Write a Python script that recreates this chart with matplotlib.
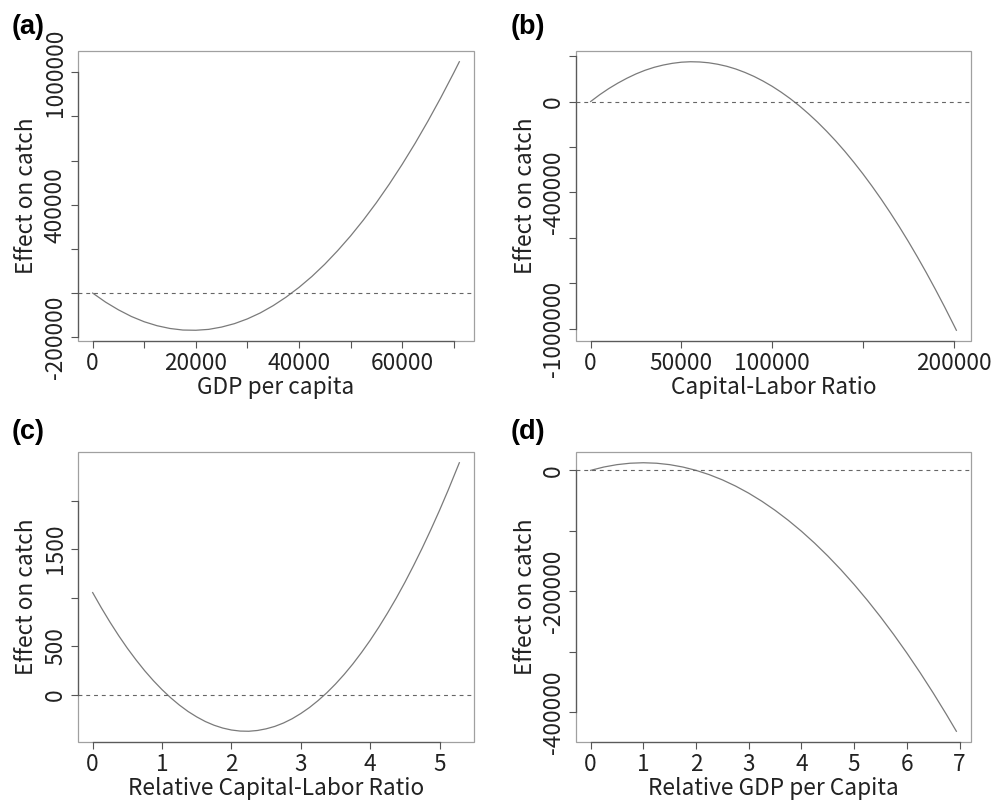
import matplotlib
matplotlib.use("Agg")
import matplotlib.pyplot as plt
from matplotlib.patches import Rectangle

plt.rc('font', family=['Noto Sans CJK JP', 'DejaVu Sans'], size=16.3)

# (a) effect of GDP per capita
gdp_x = [0, 2500, 5000, 7500, 10000, 12500, 15000, 17500, 20000, 22500,
         25000, 27500, 30000, 32500, 35000, 37500, 40000, 42500, 45000,
         47500, 50000, 52500, 55000, 57500, 60000, 62500, 65000, 67500,
         70000, 71100]
gdp_y = [0, -41000, -76000, -106000, -130000, -148000, -160500, -167500,
         -168500, -164500, -154000, -138500, -117000, -90000, -57000,
         -18500, 25500, 75000, 130500, 192000, 258500, 331000, 409000,
         493000, 582500, 677500, 778500, 885000, 997000, 1048000]

# (b) effect of capital-labor ratio
klr_x = [0, 5000, 10000, 15000, 20000, 25000, 30000, 35000, 40000, 45000,
         50000, 55000, 60000, 65000, 70000, 75000, 80000, 85000, 90000,
         95000, 100000, 105000, 110000, 115000, 120000, 125000, 130000,
         135000, 140000, 145000, 150000, 155000, 160000, 165000, 170000,
         175000, 180000, 185000, 190000, 195000, 200000, 201500]
klr_y = [0, 30000, 57000, 81000, 102500, 121500, 137500, 150500, 160500,
         168000, 173000, 175000, 174000, 170500, 164000, 155000, 143000,
         128000, 110500, 90000, 67000, 41000, 12500, -19000, -53500, -90500,
         -130500, -173000, -218500, -267000, -318000, -372000, -428500,
         -488000, -550000, -615000, -683000, -753500, -827000, -903000,
         -982000, -1006000]

# (c) effect of relative capital-labor ratio
rklr_x = [0, 0.125, 0.25, 0.375, 0.5, 0.625, 0.75, 0.875, 1.0, 1.125, 1.25,
          1.375, 1.5, 1.625, 1.75, 1.875, 2.0, 2.125, 2.25, 2.375, 2.5,
          2.625, 2.75, 2.875, 3.0, 3.125, 3.25, 3.375, 3.5, 3.625, 3.75,
          3.875, 4.0, 4.125, 4.25, 4.375, 4.5, 4.625, 4.75, 4.875, 5.0,
          5.125, 5.285]
rklr_y = [1053, 896, 748, 609, 479, 359, 247, 145, 52, -32, -107, -173,
          -229, -277, -315, -344, -364, -375, -377, -369, -352, -327, -292,
          -248, -194, -132, -60, 20, 110, 209, 317, 435, 561, 697, 842, 995,
          1158, 1331, 1512, 1703, 1902, 2111, 2392]

# (d) effect of relative GDP per capita
rgdp_x = [0, 0.25, 0.5, 0.75, 1.0, 1.25, 1.5, 1.75, 2.0, 2.25, 2.5, 2.75,
          3.0, 3.25, 3.5, 3.75, 4.0, 4.25, 4.5, 4.75, 5.0, 5.25, 5.5, 5.75,
          6.0, 6.25, 6.5, 6.75, 6.94]
rgdp_y = [0, 5500, 9450, 11800, 12600, 11800, 9450, 5500, 0, -7100, -15750,
          -26000, -37800, -51200, -66150, -82700, -100800, -120500, -141750,
          -164600, -189000, -215000, -242550, -271700, -302400, -334700,
          -368550, -404000, -432000]

panels = [
    dict(tag='(a)', x=gdp_x, y=gdp_y, xlabel='GDP per capita',
         xticks=[0, 10000, 20000, 30000, 40000, 50000, 60000, 70000],
         xlabels=['0', '', '20000', '', '40000', '', '60000', ''],
         yticks=[-200000, 0, 200000, 400000, 600000, 800000, 1000000],
         ylabels=['-200000', '', '', '400000', '', '', '1000000']),
    dict(tag='(b)', x=klr_x, y=klr_y, xlabel='Capital-Labor Ratio',
         xticks=[0, 50000, 100000, 150000, 200000],
         xlabels=['0', '50000', '100000', '', '200000'],
         yticks=[-1000000, -800000, -600000, -400000, -200000, 0, 200000],
         ylabels=['-1000000', '', '', '-400000', '', '0', '']),
    dict(tag='(c)', x=rklr_x, y=rklr_y, xlabel='Relative Capital-Labor Ratio',
         xticks=[0, 1, 2, 3, 4, 5],
         xlabels=['0', '1', '2', '3', '4', '5'],
         yticks=[0, 500, 1000, 1500, 2000],
         ylabels=['0', '500', '', '1500', '']),
    dict(tag='(d)', x=rgdp_x, y=rgdp_y, xlabel='Relative GDP per Capita',
         xticks=[0, 1, 2, 3, 4, 5, 6, 7],
         xlabels=['0', '1', '2', '3', '4', '5', '6', '7'],
         yticks=[-400000, -300000, -200000, -100000, 0],
         ylabels=['-400000', '', '-200000', '', '0']),
]

W, H = 1003, 801
boxes = [(78, 51, 474, 341), (576, 51, 971, 341),
         (78, 452, 474, 742), (576, 452, 971, 742)]
tag_pos = [(12, 27), (511, 27), (12, 432), (511, 432)]

fig = plt.figure(figsize=(W / 100, H / 100), dpi=100)
txt = '#222222'

for p, (x0, y0, x1, y1), (tx, ty) in zip(panels, boxes, tag_pos):
    ax = fig.add_axes([x0 / W, 1 - y1 / H, (x1 - x0) / W, (y1 - y0) / H])
    ax.plot(p['x'], p['y'], color='#7a7a7a', lw=0.9)
    ax.axhline(0, color='#666666', lw=0.8, dashes=(3.5, 3.5))

    # R-style 4% padding
    xr = max(p['x']) - min(p['x'])
    yr = max(p['y']) - min(p['y'])
    ax.set_xlim(min(p['x']) - 0.04 * xr, max(p['x']) + 0.04 * xr)
    ax.set_ylim(min(p['y']) - 0.04 * yr, max(p['y']) + 0.04 * yr)

    ax.set_xticks(p['xticks'])
    ax.set_xticklabels(p['xlabels'], color=txt)
    ax.set_yticks(p['yticks'])
    ax.set_yticklabels(p['ylabels'], rotation=90, va='center', color=txt)
    ax.tick_params(direction='out', length=5, width=0.8, color='#555555')
    ax.tick_params(axis='x', pad=3)
    ax.tick_params(axis='y', pad=3)

    for s in ax.spines.values():
        s.set_visible(False)
    ax.add_patch(Rectangle((0, 0), 1, 1, transform=ax.transAxes, fill=False,
                           edgecolor='#a0a0a0', lw=0.9, clip_on=False))
    for side in ('left', 'bottom'):
        ax.spines[side].set_visible(True)
        ax.spines[side].set_color('#5a5a5a')
        ax.spines[side].set_linewidth(0.9)
    ax.spines['left'].set_bounds(p['yticks'][0], p['yticks'][-1])
    ax.spines['bottom'].set_bounds(p['xticks'][0], p['xticks'][-1])

    ax.set_xlabel(p['xlabel'], color=txt, va='center')
    ax.xaxis.set_label_coords(0.5, -47 / 290)
    ax.set_ylabel('Effect on catch', color=txt, va='center')
    ax.yaxis.set_label_coords(-51 / 396, 0.5)

    fig.text(tx / W, 1 - ty / H, p['tag'], fontsize=19.5, fontweight='bold',
             family='Liberation Sans', ha='left', va='center')

fig.savefig('out.png', dpi=100, facecolor='white')
